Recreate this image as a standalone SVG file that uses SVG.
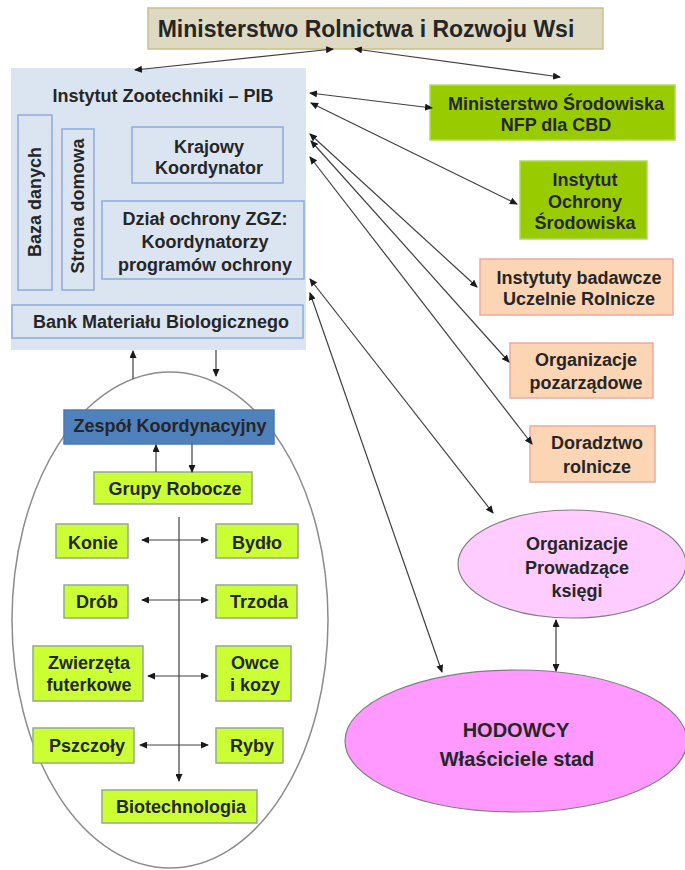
<svg xmlns="http://www.w3.org/2000/svg" width="685" height="870" viewBox="0 0 685 870">
<defs>
<marker id="ah" markerUnits="userSpaceOnUse" markerWidth="8" markerHeight="7" refX="7" refY="3.5" orient="auto-start-reverse" viewBox="0 0 8 7">
<path d="M0,0 L8,3.5 L0,7 z" fill="#1a1a1a"/>
</marker>
<style>
text{font-family:"Liberation Sans",Arial,sans-serif;font-weight:bold;fill:#262626;text-anchor:middle;font-size:18px}
.title{font-size:23px}
.big{font-size:20px}
.inner{fill:#dbe5f1;stroke:#8eaadb;stroke-width:1.5}
.lime{fill:#ccff33;stroke:#94a98e;stroke-width:1.5}
.green{fill:#99cc00;stroke:#b5d95a;stroke-width:1.5}
.peach{fill:#fcd5b4;stroke:#eeaaa0;stroke-width:1.5}
.conn line{stroke:#404040;stroke-width:1.2;fill:none}
.both{marker-start:url(#ah);marker-end:url(#ah)}
.end{marker-end:url(#ah)}
</style>
</defs>
<rect width="685" height="870" fill="#ffffff"/>

<g id="ellipse-left">
<ellipse cx="170" cy="620" rx="158" ry="248" fill="none" stroke="#8c8c8c" stroke-width="1.5"/>
</g>

<g id="mrirw">
<rect x="148" y="8" width="455" height="41" fill="#ddd9c3" stroke="#c9c08f" stroke-width="1.5"/>
<text class="title" x="366" y="37">Ministerstwo Rolnictwa i Rozwoju Wsi</text>
</g>

<g id="iz-pib">
<rect x="11" y="68" width="295" height="282" fill="#dbe5f1"/>
<text x="163" y="102">Instytut Zootechniki – PIB</text>
</g>
<g id="baza">
<rect class="inner" x="18" y="115" width="34" height="175"/>
<text x="35" y="202" dy="0.35em" transform="rotate(-90 35 202)">Baza danych</text>
</g>
<g id="strona">
<rect class="inner" x="62" y="129" width="32" height="161"/>
<text x="78" y="206" dy="0.35em" transform="rotate(-90 78 206)">Strona domowa</text>
</g>
<g id="krajowy">
<rect class="inner" x="132" y="127" width="151" height="56"/>
<text x="209" y="153">Krajowy</text>
<text x="209" y="174">Koordynator</text>
</g>
<g id="dzial">
<rect class="inner" x="102" y="201" width="202" height="78"/>
<text x="205" y="225">Dział ochrony ZGZ:</text>
<text x="205" y="248">Koordynatorzy</text>
<text x="205" y="271">programów ochrony</text>
</g>
<g id="bank">
<rect class="inner" x="12" y="305" width="291" height="33"/>
<text x="161" y="328">Bank Materiału Biologicznego</text>
</g>

<g id="ms">
<rect class="green" x="430" y="85" width="245" height="55"/>
<text x="556" y="110">Ministerstwo Środowiska</text>
<text x="556" y="131">NFP dla CBD</text>
</g>
<g id="ios">
<rect class="green" x="520" y="161" width="127" height="78"/>
<text x="585" y="186">Instytut</text>
<text x="585" y="208">Ochrony</text>
<text x="585" y="229">Środowiska</text>
</g>
<g id="ib">
<rect class="peach" x="480" y="259" width="193" height="56"/>
<text x="579" y="284">Instytuty badawcze</text>
<text x="579" y="305">Uczelnie Rolnicze</text>
</g>
<g id="op">
<rect class="peach" x="510" y="343" width="143" height="55"/>
<text x="586" y="366">Organizacje</text>
<text x="586" y="389">pozarządowe</text>
</g>
<g id="dr">
<rect class="peach" x="530" y="426" width="125" height="56"/>
<text x="597" y="449">Doradztwo</text>
<text x="597" y="473">rolnicze</text>
</g>
<g id="opk">
<ellipse cx="572" cy="564" rx="114" ry="54" fill="#ffccff" stroke="#7f7f7f" stroke-width="1.2"/>
<text x="577" y="550">Organizacje</text>
<text x="577" y="574">Prowadzące</text>
<text x="577" y="597">księgi</text>
</g>
<g id="hod">
<ellipse cx="516" cy="741" rx="171" ry="71" fill="#ff99ff" stroke="#7f7f7f" stroke-width="1.2"/>
<text class="big" x="516" y="737">HODOWCY</text>
<text class="big" x="517" y="766">Właściciele stad</text>
</g>

<g id="zespol">
<rect x="64" y="410" width="210" height="34" fill="#4f81bd" stroke="#4a7ab5" stroke-width="1.5"/>
<text x="170" y="432">Zespół Koordynacyjny</text>
</g>
<g id="grupy">
<rect class="lime" x="94" y="472" width="158" height="32"/>
<text x="175" y="495">Grupy Robocze</text>
</g>
<g id="konie"><rect class="lime" x="56" y="524" width="72" height="34"/><text x="93" y="549">Konie</text></g>
<g id="bydlo"><rect class="lime" x="216" y="524" width="82" height="34"/><text x="257" y="549">Bydło</text></g>
<g id="drob"><rect class="lime" x="64" y="585" width="64" height="33"/><text x="97" y="608">Drób</text></g>
<g id="trzoda"><rect class="lime" x="216" y="585" width="81" height="33"/><text x="259" y="608">Trzoda</text></g>
<g id="zwierzeta"><rect class="lime" x="33" y="646" width="110" height="55"/><text x="89" y="669">Zwierzęta</text><text x="89" y="691">futerkowe</text></g>
<g id="owce"><rect class="lime" x="216" y="646" width="75" height="55"/><text x="255" y="669">Owce</text><text x="255" y="691">i kozy</text></g>
<g id="pszczoly"><rect class="lime" x="33" y="728" width="101" height="35"/><text x="87" y="752">Pszczoły</text></g>
<g id="ryby"><rect class="lime" x="216" y="728" width="67" height="35"/><text x="252" y="752">Ryby</text></g>
<g id="biotech"><rect class="lime" x="102" y="790" width="155" height="33"/><text x="181" y="813">Biotechnologia</text></g>

<g id="connectors" class="conn">
<line class="both" x1="333" y1="49" x2="135" y2="70"/>
<line class="both" x1="355" y1="49" x2="560" y2="77"/>
<line class="both" x1="310" y1="93" x2="432" y2="108"/>
<line class="both" x1="311" y1="103" x2="517" y2="204"/>
<line class="both" x1="310" y1="134" x2="477" y2="287"/>
<line class="both" x1="311" y1="141" x2="509" y2="362"/>
<line class="both" x1="310" y1="157" x2="532" y2="444"/>
<line class="both" x1="310" y1="279" x2="493" y2="513"/>
<line class="both" x1="310" y1="293" x2="442" y2="672"/>
<line class="both" x1="556" y1="620" x2="556" y2="671"/>
<line class="end" x1="133" y1="379" x2="133" y2="351"/>
<line class="end" x1="216" y1="350" x2="216" y2="376"/>
<line class="end" x1="156" y1="472" x2="156" y2="445"/>
<line class="end" x1="192" y1="444" x2="192" y2="472"/>
<line class="end" x1="179" y1="517" x2="179" y2="781"/>
<line class="both" x1="142" y1="540" x2="208" y2="540"/>
<line class="both" x1="142" y1="600" x2="208" y2="600"/>
<line class="both" x1="148" y1="676" x2="208" y2="676"/>
<line class="both" x1="140" y1="745" x2="208" y2="745"/>
</g>
</svg>
